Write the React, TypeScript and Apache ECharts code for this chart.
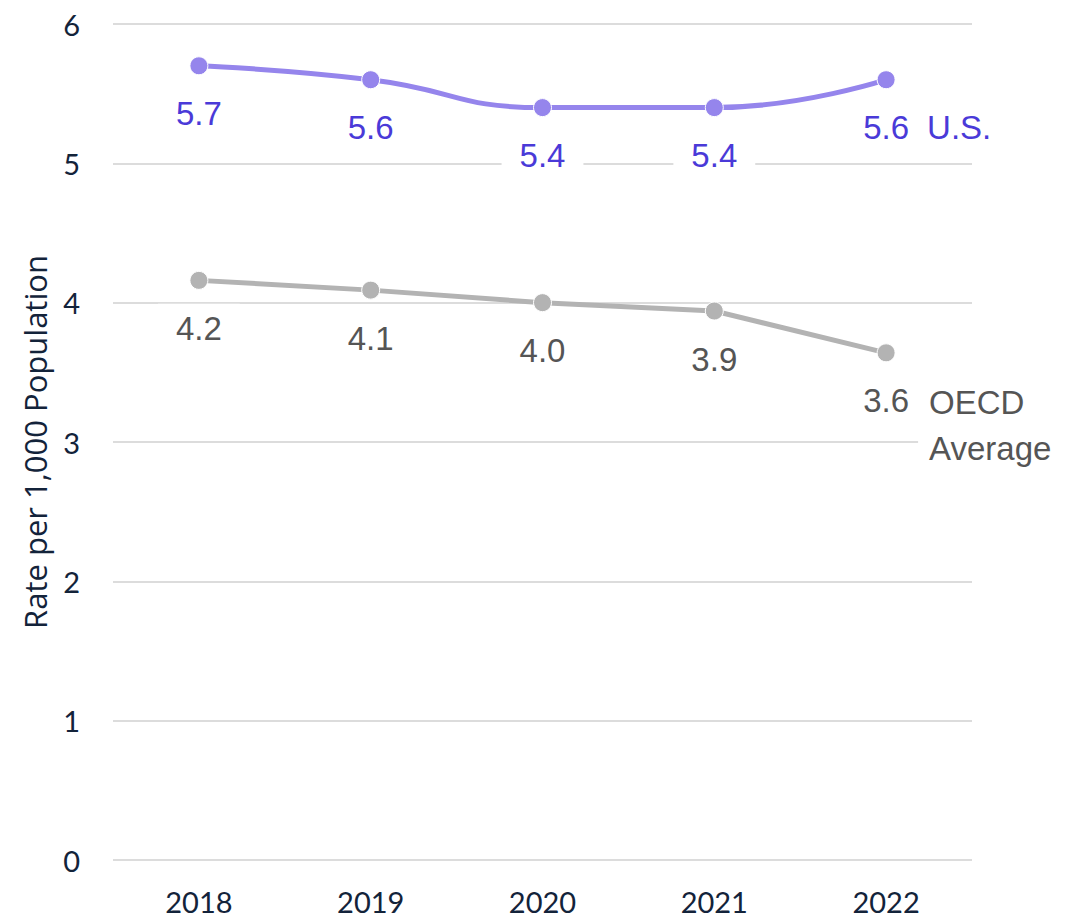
import React, { useEffect, useRef } from "react";
import * as echarts from "echarts";

const years = ["2018", "2019", "2020", "2021", "2022"];
const usValues = [5.7, 5.6, 5.4, 5.4, 5.6];
const oecdValues = [4.16, 4.09, 4.0, 3.94, 3.64];
const usName = "U.S.";
const oecdName = "OECD\nAverage";
const yTicks = [0, 1, 2, 3, 4, 5, 6];

const AXIS_FONT = "Lato, 'Open Sans', sans-serif";
const TITLE_FONT = "'Open Sans', Lato, sans-serif";
const VAL_FONT = "'Liberation Sans', Arial, sans-serif";

export default function App() {
  const ref = useRef<HTMLDivElement>(null);
  useEffect(() => {
    if (!ref.current) return;
    const chart = echarts.init(ref.current, undefined, { renderer: "svg" });
    const valueLabel = (color: string) => ({
      show: true,
      position: "bottom",
      distance: 14,
      color,
      fontFamily: VAL_FONT,
      fontSize: 33,
      backgroundColor: "#ffffff",
      padding: [8, 18],
      formatter: (p: any) => Number(p.value).toFixed(1),
    });
    chart.setOption({
      animation: false,
      grid: { left: 113, right: 99, top: 24, bottom: 59 },
      xAxis: {
        type: "category",
        data: years,
        boundaryGap: true,
        axisLine: { show: false },
        axisTick: { show: false },
        axisLabel: { color: "#13233a", fontFamily: AXIS_FONT, fontSize: 29, margin: 27 },
      },
      yAxis: {
        type: "value",
        min: yTicks[0],
        max: yTicks[yTicks.length - 1],
        interval: 1,
        name: "Rate per 1,000 Population",
        nameLocation: "middle",
        nameGap: 63,
        nameTextStyle: { color: "#13233a", fontFamily: TITLE_FONT, fontSize: 31 },
        axisLine: { show: false },
        axisTick: { show: false },
        axisLabel: { color: "#13233a", fontFamily: AXIS_FONT, fontSize: 29, margin: 33 },
        splitLine: { lineStyle: { color: "#dcdcdc", width: 2 } },
      },
      series: [
        {
          name: "OECD Average",
          type: "line",
          data: oecdValues,
          z: 2,
          symbol: "circle",
          symbolSize: 18,
          lineStyle: { color: "#b3b3b3", width: 5 },
          itemStyle: { color: "#b3b3b3", borderColor: "#ffffff", borderWidth: 1 },
          label: valueLabel("#555555"),
          endLabel: {
            show: true,
            formatter: () => oecdName,
            color: "#555555",
            fontFamily: VAL_FONT,
            fontSize: 33,
            lineHeight: 46,
            backgroundColor: "#ffffff",
            padding: [2, 4, 2, 11],
            offset: [24, 73],
          },
        },
        {
          name: "U.S.",
          type: "line",
          data: usValues,
          smooth: true,
          z: 3,
          symbol: "circle",
          symbolSize: 18,
          lineStyle: { color: "#9585ec", width: 5 },
          itemStyle: { color: "#9585ec", borderColor: "#ffffff", borderWidth: 1 },
          label: valueLabel("#4a3ad8"),
          endLabel: {
            show: true,
            formatter: () => usName,
            color: "#4a3ad8",
            fontFamily: VAL_FONT,
            fontSize: 33,
            offset: [33, 48],
          },
        },
      ],
    });
    return () => chart.dispose();
  }, []);
  return (
    <div
      ref={ref}
      style={{ position: "absolute", left: 0, top: 0, width: 1071, height: 919 }}
    />
  );
}
